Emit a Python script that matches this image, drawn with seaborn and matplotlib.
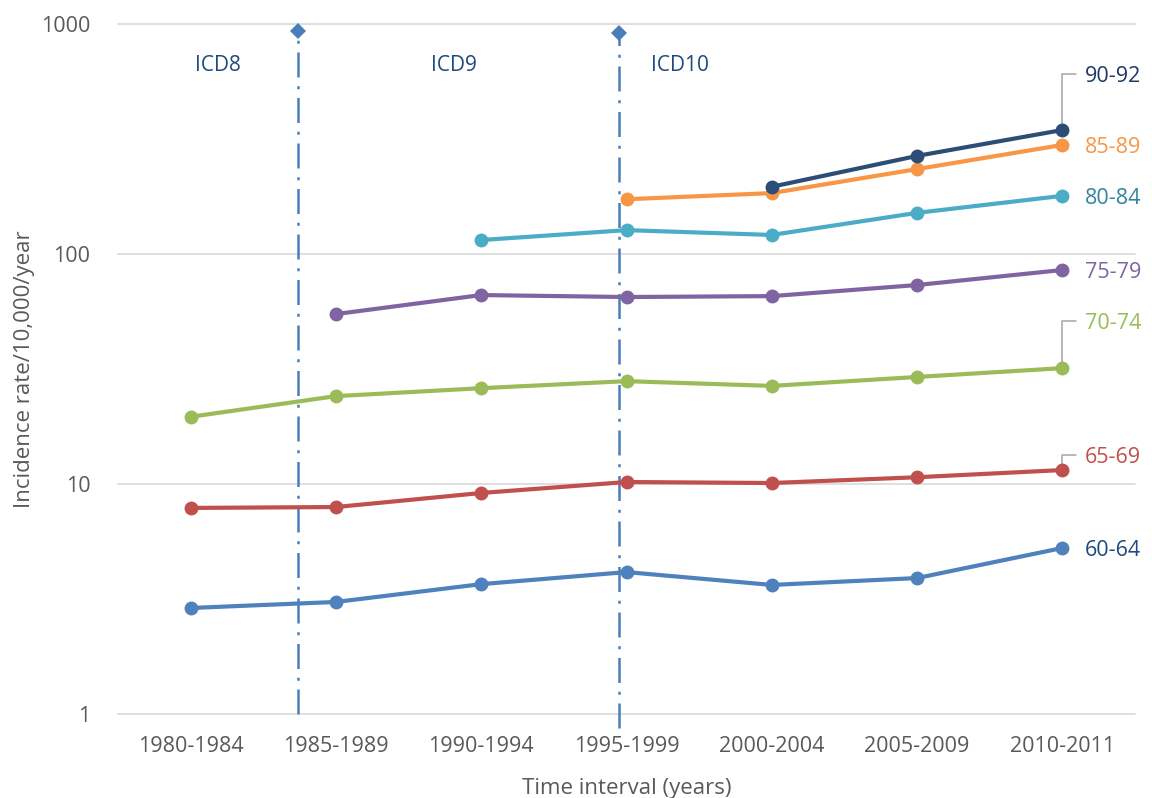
import numpy as np
import pandas as pd
import matplotlib
matplotlib.use("Agg")
import matplotlib.pyplot as plt
import seaborn as sns

# ---------------- data ----------------
periods = ["1980-1984", "1985-1989", "1990-1994", "1995-1999",
           "2000-2004", "2005-2009", "2010-2011"]
age_groups = ["60-64", "65-69", "70-74", "75-79", "80-84", "85-89", "90-92"]
nan = np.nan
rate_60_64 = [2.89, 3.07, 3.67, 4.14, 3.64, 3.90, 5.27]
rate_65_69 = [7.87, 7.94, 9.14, 10.2, 10.1, 10.7, 11.5]
rate_70_74 = [19.6, 24.1, 26.1, 28.0, 26.7, 29.2, 31.9]
rate_75_79 = [nan, 54.8, 66.3, 65.0, 65.6, 73.3, 85.2]
rate_80_84 = [nan, nan, 115, 127, 121, 151, 179]
rate_85_89 = [nan, nan, nan, 173, 184, 234, 298]
rate_90_92 = [nan, nan, nan, nan, 196, 267, 346]
series = [rate_60_64, rate_65_69, rate_70_74, rate_75_79,
          rate_80_84, rate_85_89, rate_90_92]
icd_labels = ["ICD8", "ICD9", "ICD10"]
icd_change_pos = [0.739, 2.948]   # position of coding change on category axis

line_colors = ["#4F81BD", "#C0504D", "#9BBB59", "#8064A2",
               "#4BACC6", "#F79646", "#2C4D75"]
label_colors = ["#1F497D", "#C0504D", "#9BBB59", "#8064A2",
                "#31859C", "#F79646", "#1F3864"]

rows = []
for g, vals in zip(age_groups, series):
    for i, v in enumerate(vals):
        if not np.isnan(v):
            rows.append({"age": g, "idx": i, "rate": v})
df = pd.DataFrame(rows)

# ---------------- figure ----------------
sns.set_style("white")
plt.rcParams["font.family"] = ["Open Sans", "DejaVu Sans"]

fig = plt.figure(figsize=(11.52, 7.98), dpi=100)
ax = fig.add_axes([118 / 1152, 1 - 714 / 798, (1135 - 118) / 1152, (714 - 24) / 798])

ax.set_yscale("log")
ax.set_ylim(1, 1000)
ax.set_xlim(-0.5, 6.5)

# grid
for v in [1, 10, 100, 1000]:
    ax.axhline(v, color="#D9D9D9", lw=1.2, zorder=0, clip_on=False)

sns.lineplot(data=df, x="idx", y="rate", hue="age", hue_order=age_groups,
             palette=dict(zip(age_groups, line_colors)), marker="o",
             markersize=10, markeredgewidth=0, linewidth=3, legend=False,
             ax=ax, zorder=3)

# ICD change lines
vcol = "#4A7EBB"
tops = [930, 915]
bottoms = [1.0, 0.87]
for xp, t, b in zip(icd_change_pos, tops, bottoms):
    ax.plot([xp, xp], [b, t], color=vcol, lw=1.8,
            linestyle=(0, (10, 3.5, 1.2, 3.5)), clip_on=False, zorder=2)
    ax.plot([xp], [t], marker="D", color=vcol, markersize=8,
            markeredgewidth=0, clip_on=False, zorder=4)

icd_x = [0.19, 1.81, 3.37]
for lab, xp in zip(icd_labels, icd_x):
    ax.text(xp, 10 ** ((714 - 63) / 230), lab, color="#1F497D", fontsize=15,
            ha="center", va="center_baseline")

# series end labels
label_x = 6.155
leader_x = 6.094
label_y_override = {"90-92": 606, "70-74": 51.1, "65-69": 13.4}
for g, vals, col in zip(age_groups, series, label_colors):
    last = vals[-1]
    ly = label_y_override.get(g, last)
    if g in label_y_override:
        ax.plot([6, 6, leader_x], [last, ly, ly], color="#A6A6A6", lw=1.1,
                zorder=2.5, clip_on=False)
    ax.text(label_x, ly, g, color=col, fontsize=15.5, ha="left",
            va="center_baseline", clip_on=False)

# axes styling
for s in ax.spines.values():
    s.set_visible(False)
ax.set_xticks(range(len(periods)))
ax.set_xticklabels(periods)
ax.set_yticks([1, 10, 100, 1000])
ax.set_yticklabels(["1", "10", "100", "1000"])
ax.yaxis.set_minor_locator(matplotlib.ticker.NullLocator())
ax.tick_params(axis="both", length=0, labelsize=15.5, colors="#595959")
ax.tick_params(axis="x", pad=16)
ax.tick_params(axis="y", pad=20)
ax.set_xlabel("Time interval (years)", fontsize=16, color="#595959", labelpad=15)
ax.set_ylabel("Incidence rate/10,000/year", fontsize=16, color="#595959", labelpad=4)

fig.savefig("out.png", dpi=100)
